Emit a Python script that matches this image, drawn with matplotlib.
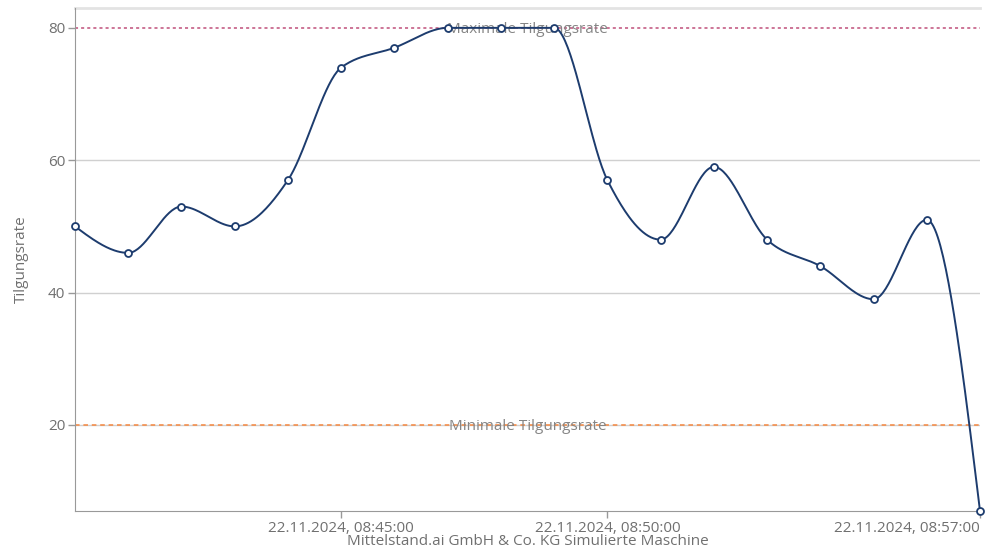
import numpy as np
import pandas as pd
import matplotlib
matplotlib.use("Agg")
import matplotlib.pyplot as plt
import matplotlib.dates as mdates
from matplotlib.transforms import ScaledTranslation

plt.rcParams['font.family'] = ['Open Sans', 'DejaVu Sans']

# data
times = ['2024-11-22 08:40:00', '2024-11-22 08:41:00', '2024-11-22 08:42:00',
         '2024-11-22 08:43:00', '2024-11-22 08:44:00', '2024-11-22 08:45:00',
         '2024-11-22 08:46:00', '2024-11-22 08:47:00', '2024-11-22 08:48:00',
         '2024-11-22 08:49:00', '2024-11-22 08:50:00', '2024-11-22 08:51:00',
         '2024-11-22 08:52:00', '2024-11-22 08:53:00', '2024-11-22 08:54:00',
         '2024-11-22 08:55:00', '2024-11-22 08:56:00', '2024-11-22 08:57:00']
tilgung = [50, 46, 53, 50, 57, 74, 77, 80, 80, 80, 57, 48, 59, 48, 44, 39, 51, 7]
tick_times = ['2024-11-22 08:45:00', '2024-11-22 08:50:00', '2024-11-22 08:57:00']
max_rate = 80
min_rate = 20

LINE = '#1d3c6e'
GRAY = '#707070'


def monotone_x(x, y, n=40):
    # monotone cubic like d3.curveMonotoneX
    x = np.asarray(x, float)
    y = np.asarray(y, float)
    h = np.diff(x)
    s = np.diff(y) / h
    m = np.zeros(len(x))
    for i in range(1, len(x) - 1):
        p = (s[i - 1] * h[i] + s[i] * h[i - 1]) / (h[i - 1] + h[i])
        m[i] = (np.sign(s[i - 1]) + np.sign(s[i])) * min(abs(s[i - 1]), abs(s[i]), 0.5 * abs(p))
    m[0] = (3 * s[0] - m[1]) / 2
    m[-1] = (3 * s[-1] - m[-2]) / 2
    xs, ys = [], []
    for i in range(len(x) - 1):
        t = np.linspace(0, 1, n)
        h00 = 2 * t**3 - 3 * t**2 + 1
        h10 = t**3 - 2 * t**2 + t
        h01 = -2 * t**3 + 3 * t**2
        h11 = t**3 - t**2
        xs.append(x[i] + t * h[i])
        ys.append(h00 * y[i] + h10 * h[i] * m[i] + h01 * y[i + 1] + h11 * h[i] * m[i + 1])
    return np.concatenate(xs), np.concatenate(ys)


xd = mdates.date2num(pd.to_datetime(times))
xs, ys = monotone_x(xd, tilgung)

fig = plt.figure(figsize=(9.88, 5.5), dpi=100)
ax = fig.add_axes([75 / 988, 39 / 550, 905 / 988, 503 / 550])

ax.set_ylim(7, 83)
ax.set_xlim(xd[0], xd[-1])
ax.set_yticks([20, 40, 60, 80])
for v in [20, 40, 60]:
    ax.axhline(v, color='#d0d0d0', lw=1, zorder=0)
ax.axhline(83, color='#e3e3e3', lw=2, zorder=0, clip_on=False)

ax.axhline(max_rate, color='#c0507a', lw=1.1, ls=(0, (2, 2)), zorder=1)
ax.axhline(min_rate, color='#f5873f', lw=1.1, ls=(0, (3, 2.5)), zorder=1)
xm = (xd[0] + xd[-1]) / 2
ax.text(xm, max_rate, 'Maximale Tilgungsrate', ha='center', va='center_baseline',
        color='#858585', fontsize=11, zorder=2)
ax.text(xm, min_rate, 'Minimale Tilgungsrate', ha='center', va='center_baseline',
        color='#858585', fontsize=11, zorder=2)

ax.plot(xs, ys, color=LINE, lw=1.4, zorder=3, clip_on=False)
ax.plot(xd, tilgung, ls='none', marker='o', ms=5, mfc='white', mec=LINE,
        mew=1.3, zorder=4, clip_on=False)

tx = mdates.date2num(pd.to_datetime(tick_times))
ax.set_xticks(tx)
ax.set_xticklabels([pd.Timestamp(t).strftime('%d.%m.%Y, %H:%M:%S') for t in tick_times])
last = ax.get_xticklabels()[-1]
last.set_horizontalalignment('right')
last.set_transform(last.get_transform() + ScaledTranslation(0.12, 0, fig.dpi_scale_trans))

for sp in ['top', 'right']:
    ax.spines[sp].set_visible(False)
for sp in ['left', 'bottom']:
    ax.spines[sp].set_color('#999999')
ax.tick_params(axis='both', colors='#999999', labelcolor=GRAY, labelsize=11,
               length=5, width=1, pad=2)

ax.set_ylabel('Tilgungsrate', color=GRAY, fontsize=11, labelpad=14)
ax.set_xlabel('Mittelstand.ai GmbH & Co. KG Simulierte Maschine', color=GRAY,
              fontsize=11, labelpad=-1)

fig.savefig('out.png', dpi=100)
